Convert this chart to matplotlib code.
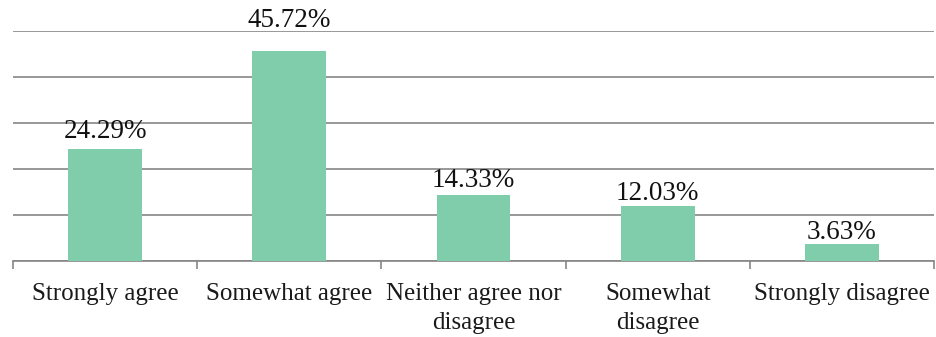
import matplotlib
matplotlib.use("Agg")
import matplotlib.pyplot as plt
import numpy as np

categories = ["Strongly agree", "Somewhat agree", "Neither agree nor\ndisagree",
              "Somewhat\ndisagree", "Strongly disagree"]
values = [24.29, 45.72, 14.33, 12.03, 3.63]
value_labels = ["24.29%", "45.72%", "14.33%", "12.03%", "3.63%"]
# vertical nudge of each value label above its bar, in points
label_offsets = [3.7, 13.0, 1.5, -0.6, -0.6]

plt.rcParams["font.family"] = ["Liberation Serif", "DejaVu Serif"]

W, H = 937, 337
fig = plt.figure(figsize=(W / 100, H / 100), dpi=100)
ax = fig.add_axes([13 / W, (H - 261) / H, (934 - 13) / W, (261 - 31) / H])

x = np.arange(len(categories))
bars = ax.bar(x, values, width=0.4, color="#7fcdaa", zorder=3)

ax.set_xlim(-0.5, len(categories) - 0.5)
ax.set_ylim(0, 50)
ax.set_yticks(np.arange(0, 51, 10))
ax.yaxis.grid(True, color="#868686", linewidth=1.2, zorder=0)
ax.tick_params(axis="y", left=False, labelleft=False)

ax.set_xticks(x)
ax.set_xticklabels(categories, fontsize=18, color="#1a1a1a", linespacing=1.4)
ax.tick_params(axis="x", which="major", length=0, pad=16)
ax.set_xticks(np.arange(-0.5, len(categories)), minor=True)
ax.tick_params(axis="x", which="minor", length=6, color="#868686", width=1.2)

for s in ["top", "right", "left"]:
    ax.spines[s].set_visible(False)
ax.spines["bottom"].set_color("#868686")
ax.spines["bottom"].set_linewidth(1.2)

for xi, v, lab, off in zip(x, values, value_labels, label_offsets):
    ax.annotate(lab, (xi, v), xytext=(0, off), textcoords="offset points",
                ha="center", va="bottom", fontsize=19.5, color="#111111", zorder=4)

fig.savefig("out.png", dpi=100)
